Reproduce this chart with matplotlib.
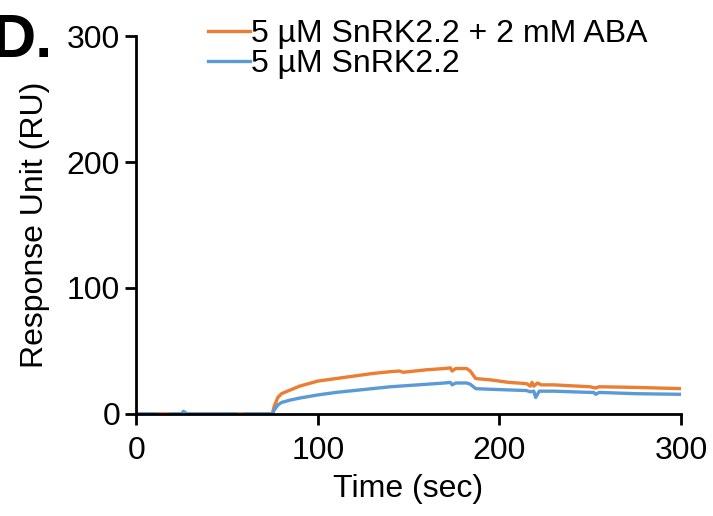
import matplotlib.pyplot as plt
import numpy as np

plt.rcParams['font.family'] = ['Liberation Sans', 'DejaVu Sans']

# time points (sec) and responses (RU)
t_aba = [0, 10, 20, 26, 28, 40, 57, 60, 70, 75, 76, 78, 80, 85, 90, 100, 110, 120, 130,
         140, 145, 147, 160, 170, 173, 174, 176, 182, 184, 187, 195, 205, 215, 217,
         218, 219, 221, 223, 230, 250, 253, 255, 275, 300]
ru_aba = [0, 0, 0, 0, 0, 0, 0, 0, 0, 0, 6, 13, 16, 19, 22, 26, 28, 30, 32,
          33.5, 34, 33, 35, 36, 36.5, 34, 36, 36, 34, 28, 27, 25, 24, 22,
          25, 22, 24.5, 23, 23, 21.5, 20.5, 21.5, 21, 20]

t_kin = [0, 10, 15, 20, 25, 26, 28, 30, 40, 55, 57, 60, 70, 75, 76, 78, 80, 85, 90, 100,
         110, 120, 130, 140, 150, 160, 170, 173, 174, 176, 182, 184, 187, 195, 205,
         215, 217, 219, 220, 222, 230, 250, 252, 253, 255, 275, 300]
ru_kin = [0, 0, -1, 0, 0, 2, 0, 0, 0, 0, -1.5, 0, 0, 0, 3, 7, 9, 11, 12.5, 15,
          17, 18.5, 20, 21.5, 22.5, 23.5, 24.5, 25, 23, 24.5, 24.5, 23.5, 20, 19.5, 19,
          18.5, 17.5, 18, 13, 18, 18, 17, 17, 15.5, 17, 16, 15.5]

labels = ['5 \u00b5M SnRK2.2 + 2 mM ABA', '5 \u00b5M SnRK2.2']
colors = ['#ed7d31', '#5b9bd5']

fig = plt.figure(figsize=(7.13, 5.16), dpi=100)
ax = fig.add_axes([0.191, 0.198, 0.764, 0.732])

ax.plot(t_aba, ru_aba, color=colors[0], lw=2.4, label=labels[0], solid_joinstyle='round')
ax.plot(t_kin, ru_kin, color=colors[1], lw=2.4, label=labels[1], solid_joinstyle='round')

ax.set_xlim(0, 300)
ax.set_ylim(0, 300)
ax.set_xticks([0, 100, 200, 300])
ax.set_yticks([0, 100, 200, 300])
for s in ['top', 'right']:
    ax.spines[s].set_visible(False)
for s in ['left', 'bottom']:
    ax.spines[s].set_linewidth(2)
ax.tick_params(axis='both', labelsize=23, width=2, length=8, direction='out')
ax.tick_params(axis='x', pad=8)
ax.set_xlabel('Time (sec)', fontsize=23, labelpad=6)
ax.set_ylabel('Response Unit (RU)', fontsize=23, labelpad=12)

fig.legend(loc='upper left', bbox_to_anchor=(0.265, 1.0), frameon=False,
           fontsize=23, handlelength=1.3, handletextpad=0.05, labelspacing=0.0,
           borderaxespad=0.2)

fig.text(-0.012, 0.975, 'D.', fontsize=44, fontweight='bold', va='top', ha='left')

fig.savefig('out.png', dpi=100)
